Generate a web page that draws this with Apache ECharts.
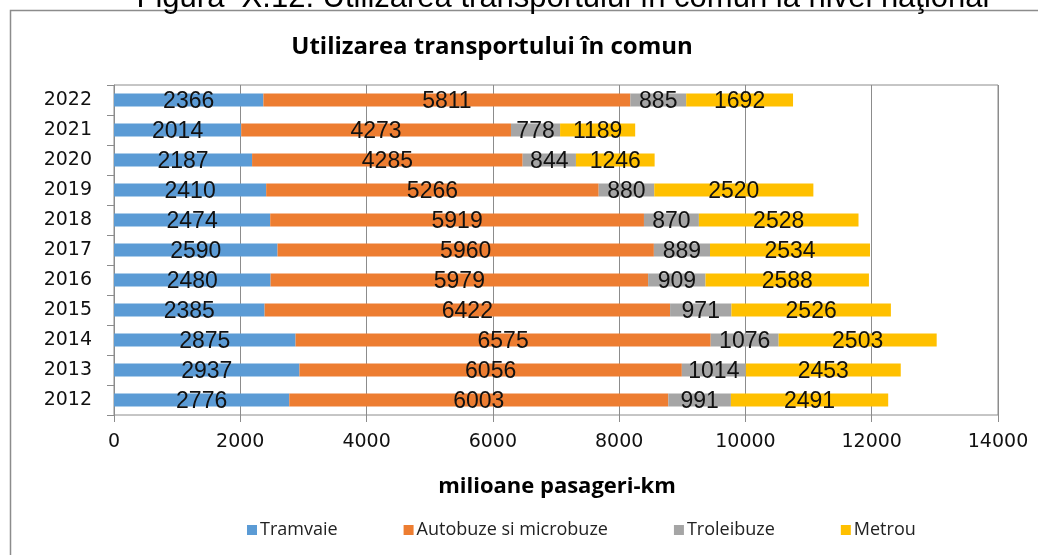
<!DOCTYPE html>
<html>
<head>
<meta charset="utf-8">
<script src="https://cdn.jsdelivr.net/npm/echarts@6/dist/echarts.min.js"></script>
<style>html,body{margin:0;padding:0;background:#fff;}#c{width:1038px;height:555px;}</style>
</head>
<body>
<div id="c"></div>
<script>
const years = ['2012','2013','2014','2015','2016','2017','2018','2019','2020','2021','2022'];
const tramvaie = [2776, 2937, 2875, 2385, 2480, 2590, 2474, 2410, 2187, 2014, 2366];
const autobuze = [6003, 6056, 6575, 6422, 5979, 5960, 5919, 5266, 4285, 4273, 5811];
const troleibuze = [991, 1014, 1076, 971, 909, 889, 870, 880, 844, 778, 885];
const metrou = [2491, 2453, 2503, 2526, 2588, 2534, 2528, 2520, 1246, 1189, 1692];
const seriesNames = ['Tramvaie', 'Autobuze si microbuze', 'Troleibuze', 'Metrou'];
const colors = ['#5B9BD5', '#ED7D31', '#A5A5A5', '#FFC000'];
const xTicks = [0, 2000, 4000, 6000, 8000, 10000, 12000, 14000];

const chart = echarts.init(document.getElementById('c'), null, {renderer: 'canvas'});
const dataSets = [tramvaie, autobuze, troleibuze, metrou];
const series = dataSets.map((d, i) => ({
  name: seriesNames[i],
  type: 'bar',
  stack: 'total',
  data: d,
  barWidth: 13,
  itemStyle: {color: colors[i]},
  label: {
    show: true,
    position: 'inside',
    offset: [0, 2],
    color: '#111',
    fontFamily: 'Liberation Sans',
    fontSize: 23
  },
  emphasis: {disabled: true},
  animation: false
}));

chart.setOption({
  animation: false,
  color: colors,
  grid: {left: 114, right: 40, top: 85, bottom: 140, show: true, borderColor: '#8c8c8c', borderWidth: 1},
  xAxis: {
    type: 'value',
    min: xTicks[0],
    max: xTicks[xTicks.length - 1],
    interval: 2000,
    axisLine: {show: false},
    axisTick: {show: true, length: 7, lineStyle: {color: '#8c8c8c'}},
    splitLine: {show: true, lineStyle: {color: '#8c8c8c', width: 1}},
    axisLabel: {color: '#111', fontFamily: 'DejaVu Sans', fontSize: 19, margin: 18, formatter: v => String(v)}
  },
  yAxis: {
    type: 'category',
    data: years,
    axisLine: {show: true, lineStyle: {color: '#8c8c8c'}},
    axisTick: {show: true, length: 7, inside: false, lineStyle: {color: '#8c8c8c'}},
    axisLabel: {color: '#111', fontFamily: 'DejaVu Sans', fontSize: 19, margin: 22}
  },
  legend: {
    data: seriesNames,
    left: 242,
    top: 516,
    icon: 'rect',
    itemWidth: 10,
    itemHeight: 10,
    itemGap: 66,
    textStyle: {fontFamily: 'Open Sans', fontSize: 18, color: '#222', padding: [0, 0, 0, -2]}
  },
  graphic: [
    {type: 'rect', shape: {x: 10.5, y: 10.5, width: 1040, height: 560}, style: {fill: null, stroke: '#8c8c8c', lineWidth: 1.5}},
    {type: 'text', x: 563, y: 14, style: {text: 'Figura  X.12. Utilizarea transportului în comun la nivel naţional', font: '31px "Liberation Sans"', textAlign: 'center', textVerticalAlign: 'bottom', fill: '#000'}},
    {type: 'text', x: 492, y: 47, style: {text: 'Utilizarea transportului în comun', font: 'bold 24px "Open Sans"', textAlign: 'center', textVerticalAlign: 'middle', fill: '#000'}},
    {type: 'text', x: 557, y: 487, style: {text: 'milioane pasageri-km', font: 'bold 22px "Open Sans"', textAlign: 'center', textVerticalAlign: 'middle', fill: '#000'}}
  ],
  series: series
});
</script>
</body>
</html>
